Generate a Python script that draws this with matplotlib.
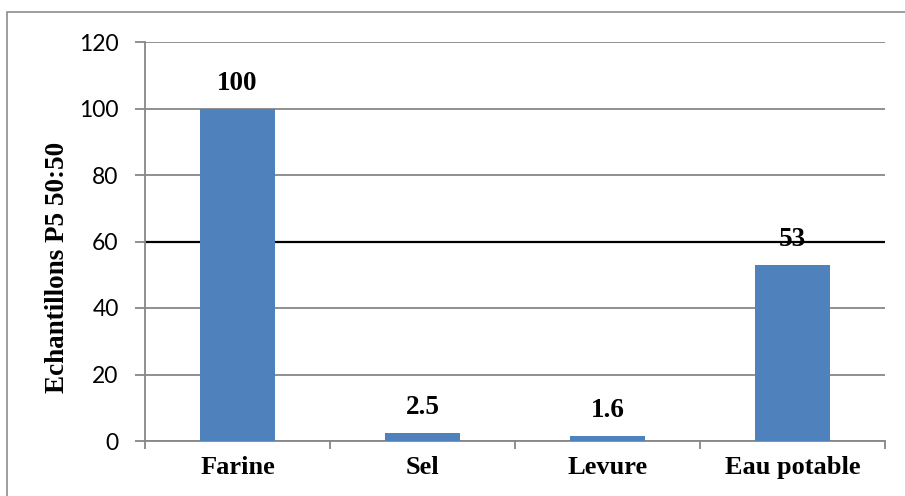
import matplotlib
matplotlib.use("Agg")
import matplotlib.pyplot as plt
from matplotlib.patches import Rectangle
import numpy as np

ingredients = ["Farine", "Sel", "Levure", "Eau potable"]
quantities = [100, 2.5, 1.6, 53]
value_labels = ["100", "2.5", "1.6", "53"]
y_ticks = [0, 20, 40, 60, 80, 100, 120]

bar_color = "#4F81BD"
grid_gray = "#878787"
serif = "Liberation Serif"

W, H = 905, 496
fig = plt.figure(figsize=(W / 100, H / 100), dpi=100)
ax = fig.add_axes([145 / W, 1 - 441 / H, 740 / W, 399 / H])

# outer frame of the chart area
fig.patches.append(Rectangle((7 / W, -0.2), 1.2, 1 - 12 / H + 0.2,
                             transform=fig.transFigure, fill=False,
                             edgecolor="#8c8c8c", lw=1.2, clip_on=False))

x = np.arange(len(ingredients))
ax.bar(x, quantities, width=0.405, color=bar_color, zorder=3)

ax.set_xlim(-0.5, 3.5)
ax.set_ylim(0, 120)
ax.set_yticks(y_ticks)
ax.set_yticklabels([str(v) for v in y_ticks], family="Lato", fontsize=16.5)
ax.yaxis.grid(True, color=grid_gray, lw=1.3, zorder=0)
ax.axhline(60, color="black", lw=1.6, zorder=2)

ax.set_xticks(x)
ax.set_xticklabels(ingredients, family=serif, fontweight="bold", fontsize=19)
ax.set_xticks(np.arange(-0.5, 4, 1), minor=True)
ax.tick_params(axis="x", which="major", length=0, pad=11)
ax.tick_params(axis="x", which="minor", length=6, color=grid_gray, width=1.3)
ax.tick_params(axis="y", length=7, color=grid_gray, width=1.3, pad=12)

for s in ["top", "right"]:
    ax.spines[s].set_visible(False)
for s in ["left", "bottom"]:
    ax.spines[s].set_color(grid_gray)
    ax.spines[s].set_linewidth(1.3)

for xi, q, lab in zip(x, quantities, value_labels):
    ax.annotate(lab, (xi, q), xytext=(0, 13.5), textcoords="offset points",
                ha="center", va="baseline", family=serif, fontweight="bold",
                fontsize=19.5, zorder=4)

fig.text(58 / W, 1 - 267 / H, "Echantillons P5 50:50", rotation=90,
         ha="center", va="center", family=serif, fontweight="bold", fontsize=19.5)

fig.savefig("out.png", dpi=100)
